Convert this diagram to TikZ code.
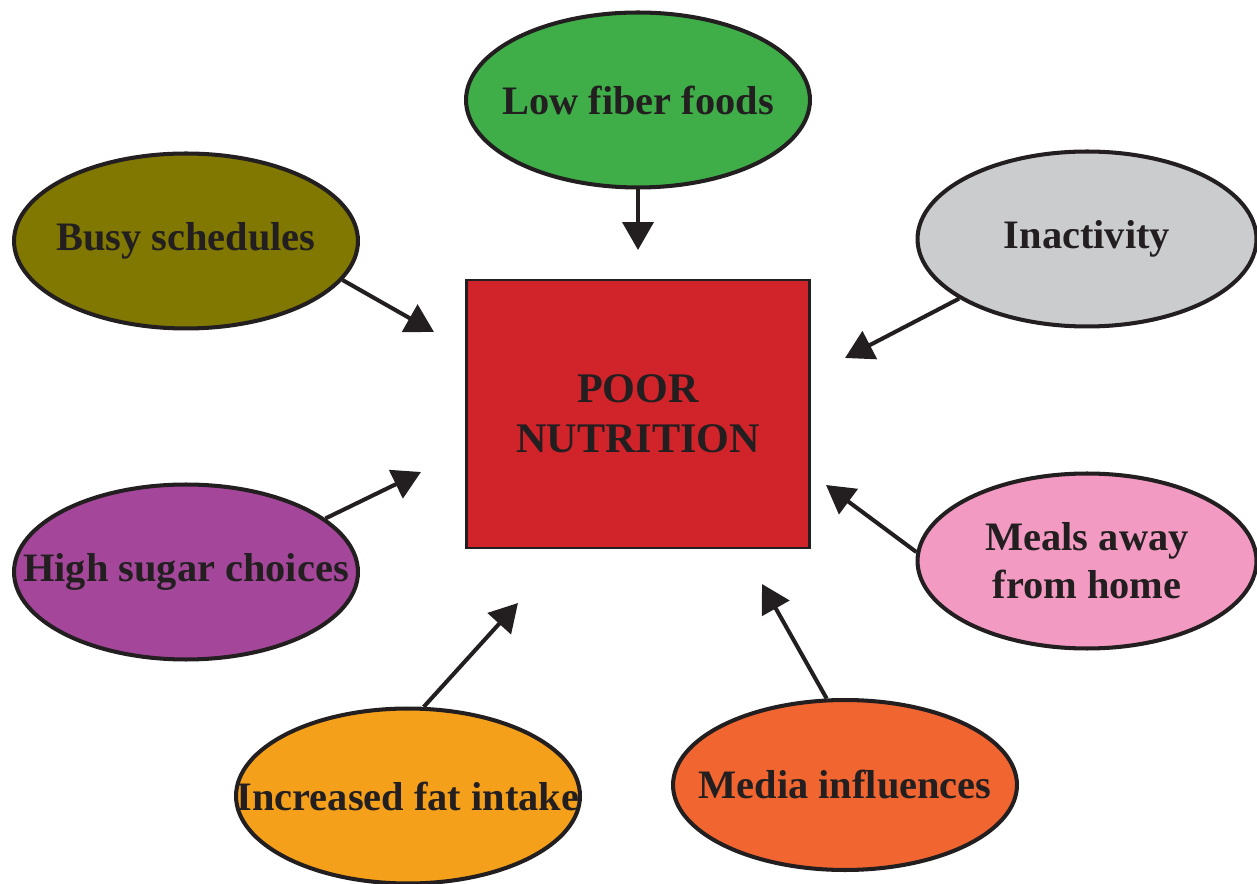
\documentclass[tikz,border=0pt]{standalone}
\usepackage{fontspec}
\setmainfont{Liberation Serif}
\usetikzlibrary{shapes.geometric,arrows.meta}
\definecolor{txt}{HTML}{231F20}
\definecolor{cgreen}{HTML}{3FAE49}
\definecolor{colive}{HTML}{807800}
\definecolor{cgrey}{HTML}{CBCCCE}
\definecolor{cpurple}{HTML}{A4479A}
\definecolor{cpink}{HTML}{F29AC1}
\definecolor{corange}{HTML}{F5A01A}
\definecolor{cred}{HTML}{F16531}
\definecolor{cbox}{HTML}{D1232A}
\newcommand{\zl}[1]{\makebox[0pt][c]{#1}}
\tikzset{
  bubble/.style={ellipse, draw=txt, line width=2.3pt, minimum width=6.88cm, minimum height=3.5cm, inner sep=0pt, align=center, text=txt, font=\fontsize{23}{27.5}\selectfont\bfseries},
  core/.style={rectangle, draw=txt, line width=1.5pt, fill=cbox, minimum width=6.86cm, minimum height=5.36cm, align=center, text=txt, font=\fontsize{24}{28.5}\selectfont\bfseries},
  link/.style={draw=txt, line width=2.3pt, -{Triangle[width=0.62cm,length=0.56cm]}}
}
\begin{document}
\begin{tikzpicture}[x=0.02cm,y=-0.02cm]
\useasboundingbox (0,0) rectangle (1257,884);
\node[core] (pn) at (638,414) {POOR\\NUTRITION};
\node[bubble, fill=cgreen] (fiber) at (638,100) {\zl{Low fiber foods}};
\node[bubble, fill=colive] (busy) at (186,241) {\zl{Busy schedules}};
\node[bubble, fill=cgrey, minimum width=6.78cm] (inact) at (1087,239) {\zl{Inactivity}};
\node[bubble, fill=cpurple] (sugar) at (186,572) {\zl{High sugar choices}};
\node[bubble, fill=cpink, minimum width=6.78cm] (meals) at (1087,561) {\zl{Meals away}\\\zl{from home}};
\node[bubble, fill=corange] (fat) at (408,796) {\zl{Increased fat intake}};
\node[bubble, fill=cred, minimum height=3.4cm] (media) at (845,785) {\zl{Media influences}};
\coordinate (t1) at (638,250);
\coordinate (t2) at (434,332);
\coordinate (t3) at (845,358);
\coordinate (t4) at (421,472);
\coordinate (t5) at (826,485);
\coordinate (t6) at (518,603);
\coordinate (t7) at (762,584);
\draw[link] (fiber.south) -- (t1);
\draw[link] (busy.-14) -- (t2);
\draw[link] (inact.205) -- (t3);
\draw[link] (sugar.21) -- (t4);
\draw[link] (meals.177) -- (t5);
\draw[link] (fat.80) -- (t6);
\draw[link] (media.102) -- (t7);
\end{tikzpicture}
\end{document}
